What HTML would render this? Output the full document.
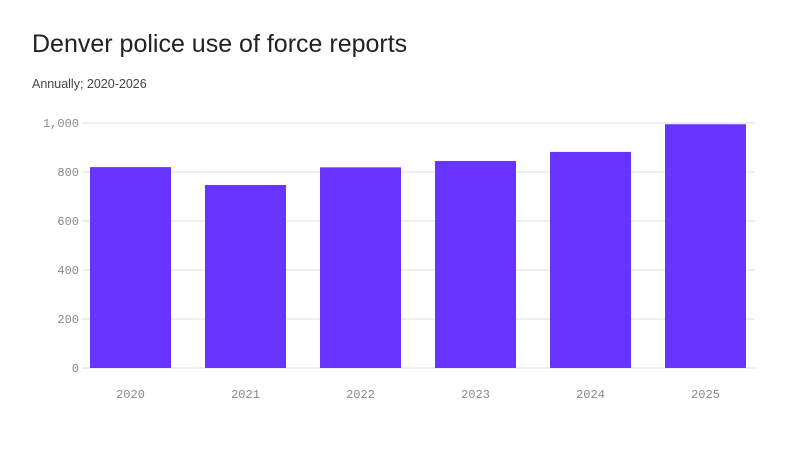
<!DOCTYPE html>
<html><head><meta charset="utf-8"><style>
body{margin:0;background:#fff;width:800px;height:450px;overflow:hidden;font-family:"Liberation Sans",sans-serif}
h1{position:absolute;left:32px;top:30px;margin:0;font-weight:400;font-size:25px;color:#222}
.sub{position:absolute;left:32px;top:77px;font-size:12.5px;color:#444}
svg{position:absolute;left:0;top:0}
</style></head><body>
<h1>Denver police use of force reports</h1>
<div class="sub">Annually; 2020-2026</div>
<svg id="c" width="800" height="450"></svg>
<script>
const categories=["2020","2021","2022","2023","2024","2025"];
const values=[820,747,819,845,882,995];
const ticks=[0,200,400,600,800,1000];
const tickLabels=["0","200","400","600","800","1,000"];
const svg=document.getElementById('c');
const ns='http://www.w3.org/2000/svg';
const y=v=>368-v*0.245;
const x=i=>90+i*115;
const bw=81;
function mk(t,a){const e=document.createElementNS(ns,t);for(const k in a)e.setAttribute(k,a[k]);svg.appendChild(e);return e;}
ticks.forEach((t,i)=>{
 const g=mk('line',{x1:82,x2:755,y1:y(t),y2:y(t),stroke:'#e8e8e8','stroke-width':1.5});
 
 
 const l=mk('text',{x:79,y:y(t)+4,'text-anchor':'end','font-size':12,fill:'#888','font-family':'Liberation Mono, monospace'});
 l.textContent=tickLabels[i];
 
 
});
categories.forEach((c,i)=>{
 const r=mk('rect',{x:x(i),y:y(values[i]),width:bw,height:y(0)-y(values[i]),fill:'#6633ff'});
 
 
 const l=mk('text',{x:x(i)+bw/2,y:398,'text-anchor':'middle','font-size':12,fill:'#888','font-family':'Liberation Mono, monospace'});
 l.textContent=c;
 
 
});
</script>
</body></html>
